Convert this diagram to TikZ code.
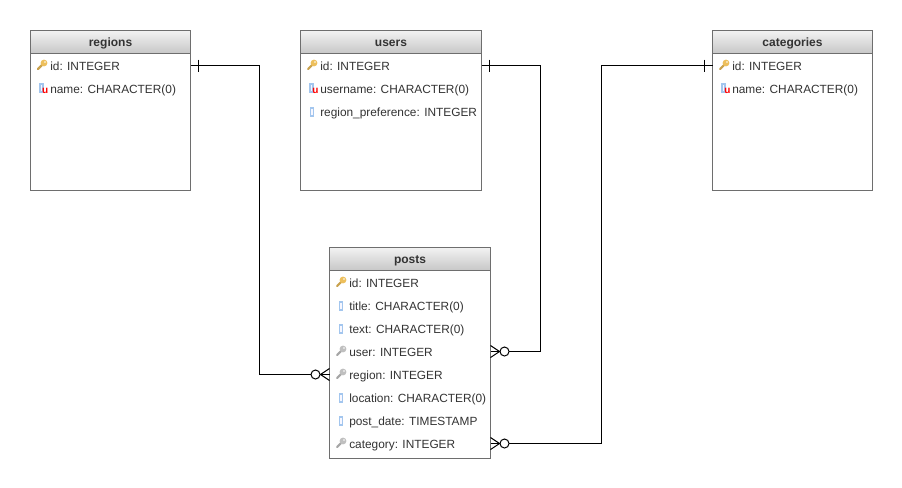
\documentclass[tikz,border=0pt]{standalone}
\usepackage{fontspec}
\setmainfont{Liberation Sans}
\usetikzlibrary{positioning}
\definecolor{edgegray}{HTML}{6E6E6E}
\definecolor{textgray}{HTML}{333333}
\definecolor{keygold}{HTML}{EDBF5C}
\definecolor{colblue}{HTML}{A3C6EE}
\tikzset{
	table/.style={draw=edgegray, fill=white, minimum width=#1, minimum height=120pt, inner sep=0pt, outer sep=0pt},
	head/.style={draw=edgegray, top color=white!95!black, bottom color=white!78!black, minimum width=#1, minimum height=17.25pt, inner sep=0pt, outer sep=0pt, text=textgray, text height=7pt, text depth=1pt, font=\fontsize{9}{11}\selectfont\bfseries},
	row/.style={anchor=west, inner sep=0pt, text=textgray, text height=7.5pt, text depth=0pt, font=\fontsize{8.9}{11}\selectfont},
	rel/.style={draw=black, line width=.75pt},
	onemark/.pic={\draw [rel] (8,-6) -- (8,6);},
	manymark/.pic={
		\draw [rel] (0,-6) -- (9,0) -- (0,6);
		\draw [rel, fill=white] (14,0) circle (4.5);
	},
	pkicon/.pic={
		\draw [keygold!85!black, line width=1.6pt, line cap=round] (-4,4) -- (1,-1);
		\fill [keygold] (2,-2) circle (3.4);
		\fill [white] (3,-3) circle (.8);
	},
	fkicon/.pic={
		\draw [black!35, line width=1.6pt, line cap=round] (-4,4) -- (1,-1);
		\fill [black!25] (2,-2) circle (3.4);
		\fill [white] (3,-3) circle (.8);
	},
	colicon/.pic={\draw [colblue, fill=blue!3, line width=1.1pt] (-1.5,-4) rectangle (1.5,4);},
	uqicon/.pic={
		\draw [colblue, fill=blue!3, line width=1.1pt] (-4,-5) rectangle (-1,3);
		\node [text=red, inner sep=0pt, font=\fontsize{7.5}{7.5}\selectfont\bfseries] at (1.3,1.5) {u};
	}
}
\begin{document}
\begin{tikzpicture}[x=.75pt, y=-.75pt]
	\useasboundingbox (0,0) rectangle (902,487);

	% tables
	\draw (110.5,110.5) node [table=120pt] (regions) {};
	\draw (391,110.5) node [table=135.75pt] (users) {};
	\draw (792.5,110.5) node [table=120pt] (categories) {};
	\draw (410,353) node [table=120.75pt, minimum height=158.25pt] (posts) {};

	\draw (regions.north) node [head=120pt, anchor=north] (regionshead) {regions};
	\draw (users.north) node [head=135.75pt, anchor=north] (usershead) {users};
	\draw (categories.north) node [head=120pt, anchor=north] (categorieshead) {categories};
	\draw (posts.north) node [head=120.75pt, anchor=north] (postshead) {posts};

	% columns
	\draw (50,65.5) node [row] (regionsid) {id: INTEGER};
	\draw (50,88.5) node [row] (regionsname) {name: CHARACTER(0)};

	\draw (320,65.5) node [row] (usersid) {id: INTEGER};
	\draw (320,88.5) node [row] (usersname) {username: CHARACTER(0)};
	\draw (320,111.5) node [row] (userspref) {region\_preference: INTEGER};

	\draw (732,65.5) node [row] (categoriesid) {id: INTEGER};
	\draw (732,88.5) node [row] (categoriesname) {name: CHARACTER(0)};

	\draw (349,282.5) node [row] (postsid) {id: INTEGER};
	\draw (349,305.5) node [row] (poststitle) {title: CHARACTER(0)};
	\draw (349,328.5) node [row] (poststext) {text: CHARACTER(0)};
	\draw (349,351.5) node [row] (postsuser) {user: INTEGER};
	\draw (349,374.5) node [row] (postsregion) {region: INTEGER};
	\draw (349,397.5) node [row] (postslocation) {location: CHARACTER(0)};
	\draw (349,420.5) node [row] (postsdate) {post\_date: TIMESTAMP};
	\draw (349,443.5) node [row] (postscategory) {category: INTEGER};

	% icons
	\pic at (42,65) {pkicon};
	\pic at (44,89) {uqicon};
	\pic at (312,65) {pkicon};
	\pic at (314,89) {uqicon};
	\pic at (312,112) {colicon};
	\pic at (724,65) {pkicon};
	\pic at (726,89) {uqicon};
	\pic at (341,282) {pkicon};
	\pic at (341,306) {colicon};
	\pic at (341,329) {colicon};
	\pic at (341,351) {fkicon};
	\pic at (341,374) {fkicon};
	\pic at (341,398) {colicon};
	\pic at (341,421) {colicon};
	\pic at (341,443) {fkicon};

	% relations
	\coordinate (regionsbus) at (259.5,220);
	\coordinate (usersbus) at (540.5,220);
	\coordinate (categoriesbus) at (601.5,220);

	\draw [rel] (regionsid -| regions.east) -| (regionsbus) |- (postsregion -| posts.west);
	\draw [rel] (usersid -| users.east) -| (usersbus) |- (postsuser -| posts.east);
	\draw [rel] (categoriesid -| categories.west) -| (categoriesbus) |- (postscategory -| posts.east);

	\pic at (regionsid -| regions.east) {onemark};
	\pic at (usersid -| users.east) {onemark};
	\pic [xscale=-1] at (categoriesid -| categories.west) {onemark};
	\pic [xscale=-1] at (postsregion -| posts.west) {manymark};
	\pic at (postsuser -| posts.east) {manymark};
	\pic at (postscategory -| posts.east) {manymark};
\end{tikzpicture}
\end{document}
